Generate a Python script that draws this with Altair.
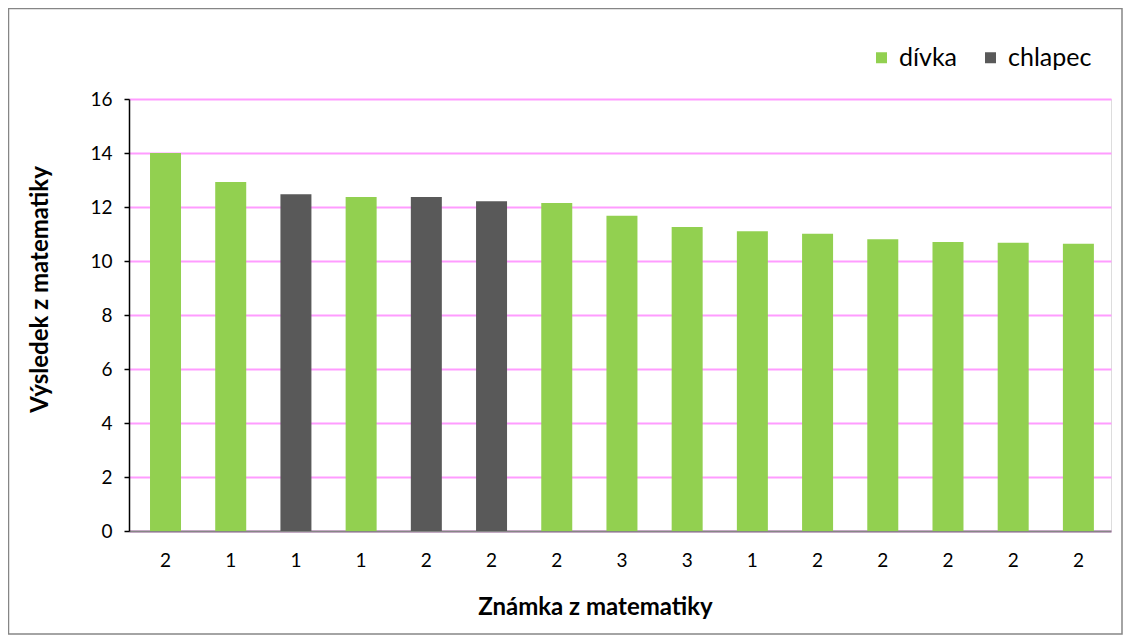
import altair as alt
import pandas as pd
import json

grades = ["2", "1", "1", "1", "2", "2", "2", "3", "3", "1", "2", "2", "2", "2", "2"]
gender = ["dívka", "dívka", "chlapec", "dívka", "chlapec", "chlapec", "dívka", "dívka",
          "dívka", "dívka", "dívka", "dívka", "dívka", "dívka", "dívka"]
scores = [14.0, 12.93, 12.47, 12.37, 12.37, 12.21, 12.15, 11.68,
          11.26, 11.1, 11.01, 10.81, 10.7, 10.68, 10.64]

df = pd.DataFrame({"idx": list(range(len(scores))), "grade": grades,
                   "pohlaví": gender, "score": scores})

FONT = "Lato"
label_expr = json.dumps(grades) + "[datum.value]"

bars = alt.Chart(df).mark_bar(size=31).encode(
    x=alt.X("idx:O", sort=None,
            scale=alt.Scale(paddingInner=0, paddingOuter=0.03, align=1),
            axis=alt.Axis(title="Známka z matematiky", labelExpr=label_expr,
                          labelAngle=0, labelFontSize=19, labelFont=FONT, labelColor="#000",
                          labelPadding=20, ticks=False, domainColor="#868686", domainWidth=2,
                          titleFont=FONT, titleFontSize=24, titleFontWeight="bold",
                          titleColor="#000", titleX=466, titleY=76, titleAnchor=None,
                          titleBaseline="middle", titleAlign="center", grid=False)),
    y=alt.Y("score:Q", scale=alt.Scale(domain=[0, 16], nice=False),
            axis=alt.Axis(title="Výsledek z matematiky", values=list(range(0, 17, 2)),
                          labelFontSize=19, labelFont=FONT, labelColor="#000",
                          labelPadding=12, tickSize=5, tickColor="#000", domainColor="#000",
                          domainWidth=1.5, tickWidth=1.5,
                          gridColor="#FF9CFF", gridWidth=2,
                          titleFont=FONT, titleFontSize=24, titleFontWeight="bold",
                          titleColor="#000", titleX=-89, titleY=190, titleAngle=-90,
                          titleBaseline="middle", titleAlign="center")),
    color=alt.Color("pohlaví:N",
                    scale=alt.Scale(domain=["dívka", "chlapec"], range=["#92D050", "#595959"]),
                    legend=alt.Legend(title=None, orient="none", legendX=740, legendY=-54,
                                      direction="horizontal", symbolType="square",
                                      symbolSize=121, symbolStrokeWidth=0, labelFont=FONT,
                                      labelFontSize=25, labelColor="#000", columnPadding=20,
                                      labelOffset=5)),
)

border = alt.Chart(df).mark_rect(fill=None, stroke="#868686", strokeWidth=1.5).encode(
    x=alt.value(-120.5), x2=alt.value(993), y=alt.value(-90.5), y2=alt.value(535)
).transform_filter("datum.idx == 0")

chart = alt.layer(border, bars).properties(
    width=982, height=432,
    autosize=alt.AutoSizeParams(type="none"),
    padding={"left": 121, "top": 91, "right": 12, "bottom": 105},
).configure_view(stroke=None).configure(background="white")

chart.save("out.html", embed_options={"renderer": "svg", "actions": False})
